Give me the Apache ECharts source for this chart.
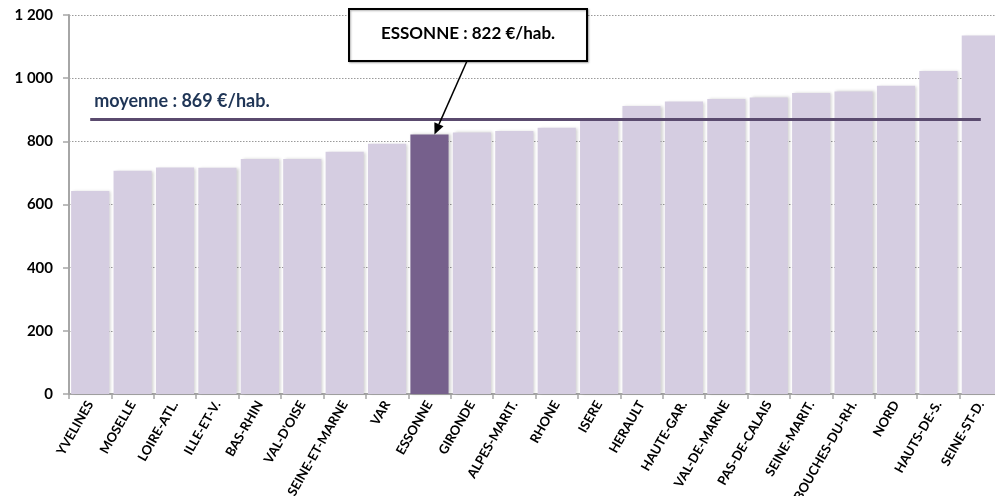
<!DOCTYPE html>
<html>
<head>
<meta charset="utf-8">
<script src="https://cdn.jsdelivr.net/npm/echarts@6/dist/echarts.min.js"></script>
<style>
  html, body { margin: 0; padding: 0; background: #fff; }
  #chart { width: 995px; height: 496px; }
</style>
</head>
<body>
<div id="chart"></div>
<script>
// departements, sorted by value
var departements = ['YVELINES', 'MOSELLE', 'LOIRE-ATL.', 'ILLE-ET-V.', 'BAS-RHIN', "VAL-D'OISE",
  'SEINE-ET-MARNE', 'VAR', 'ESSONNE', 'GIRONDE', 'ALPES-MARIT.', 'RHONE', 'ISERE', 'HERAULT',
  'HAUTE-GAR.', 'VAL-DE-MARNE', 'PAS-DE-CALAIS', 'SEINE-MARIT.', 'BOUCHES-DU-RH.', 'NORD',
  'HAUTS-DE-S.', 'SEINE-ST-D.']
var valeurs = [643, 707, 717, 716, 744, 744, 767, 792, 822, 828, 833, 843, 866, 912,
  926, 934, 939, 953, 958, 976, 1023, 1135]
var moyenne = 869
var highlight = 'ESSONNE'
var yTicks = [0, 200, 400, 600, 800, 1000, 1200]

var font = 'Lato, "Open Sans", sans-serif'
var chart = echarts.init(document.getElementById('chart'))

var hiIdx = departements.indexOf(highlight)

chart.setOption({
  animation: false,
  grid: { left: 69, top: 15, bottom: 102, width: 933, containLabel: false, outerBoundsMode: 'none' },
  xAxis: {
    type: 'category',
    data: departements,
    axisLine: { lineStyle: { color: '#a6a6a6', width: 2 } },
    axisTick: { show: true, length: 5, lineStyle: { color: '#a6a6a6', width: 1.5 } },
    axisLabel: {
      interval: 0,
      rotate: 60,
      hideOverlap: false,
      margin: 8,
      color: '#000',
      fontFamily: font,
      fontWeight: 'bold',
      fontSize: 13
    }
  },
  yAxis: {
    type: 'value',
    min: yTicks[0],
    max: yTicks[yTicks.length - 1],
    interval: 200,
    axisLine: { show: true, lineStyle: { color: '#a6a6a6', width: 2 } },
    axisTick: { show: true, length: 6, lineStyle: { color: '#a6a6a6', width: 1.5 } },
    axisLabel: {
      margin: 16,
      color: '#000',
      fontFamily: font,
      fontWeight: 'bold',
      fontSize: 15,
      formatter: function (v) {
        return v >= 1000 ? Math.floor(v / 1000) + ' ' + String(v % 1000).padStart(3, '0') : String(v)
      }
    },
    splitLine: { lineStyle: { color: '#9a9a9a', type: [1.5, 1.5], width: 1 } }
  },
  series: [{
    type: 'bar',
    barCategoryGap: '10%',
    data: valeurs.map(function (v, i) {
      return {
        value: v,
        itemStyle: { color: i === hiIdx ? '#76608c' : '#d5cde1' }
      }
    }),
    itemStyle: {
      shadowColor: 'rgba(0,0,0,0.18)',
      shadowBlur: 3,
      shadowOffsetX: 2
    },
    markLine: {
      silent: true,
      symbol: 'none',
      lineStyle: { color: '#5a4a6e', width: 3, type: 'solid' },
      label: {
        show: true,
        position: 'insideStartTop',
        distance: [4, 9],
        formatter: 'moyenne : ' + moyenne + ' €/hab.',
        color: '#1f3556',
        fontFamily: font,
        fontWeight: 'bold',
        fontSize: 18
      },
      data: [[
        { coord: [departements[0], moyenne] },
        { coord: [departements[departements.length - 1], moyenne] }
      ]]
    }
  }]
})

// callout for the highlighted departement
var tip = chart.convertToPixel({ seriesIndex: 0 }, [highlight, valeurs[hiIdx]])
var box = { x: 349, y: 9, w: 238, h: 52 }
var start = [467, box.y + box.h]
var end = [tip[0] + 5, tip[1]]
var dx = end[0] - start[0], dy = end[1] - start[1]
var len = Math.sqrt(dx * dx + dy * dy)
var ux = dx / len, uy = dy / len
var headL = 11, headW = 5
var base = [end[0] - ux * headL, end[1] - uy * headL]

chart.setOption({
  graphic: [
    {
      type: 'rect',
      shape: { x: box.x, y: box.y, width: box.w, height: box.h },
      style: { fill: '#fff', stroke: '#000', lineWidth: 2, shadowColor: 'rgba(0,0,0,0.3)', shadowBlur: 2, shadowOffsetX: 1, shadowOffsetY: 1 },
      z: 10
    },
    {
      type: 'text',
      x: box.x + box.w / 2,
      y: box.y + box.h / 2 - 1,
      style: {
        text: highlight + ' : ' + valeurs[hiIdx] + ' €/hab.',
        fill: '#000',
        font: 'bold 17px ' + font,
        align: 'center',
        verticalAlign: 'middle'
      },
      z: 11
    },
    {
      type: 'line',
      shape: { x1: start[0], y1: start[1], x2: base[0], y2: base[1] },
      style: { stroke: '#000', lineWidth: 1.5 },
      z: 10
    },
    {
      type: 'polygon',
      shape: {
        points: [
          end,
          [base[0] - uy * headW, base[1] + ux * headW],
          [base[0] + uy * headW, base[1] - ux * headW]
        ]
      },
      style: { fill: '#000' },
      z: 10
    }
  ]
})
</script>
</body>
</html>
